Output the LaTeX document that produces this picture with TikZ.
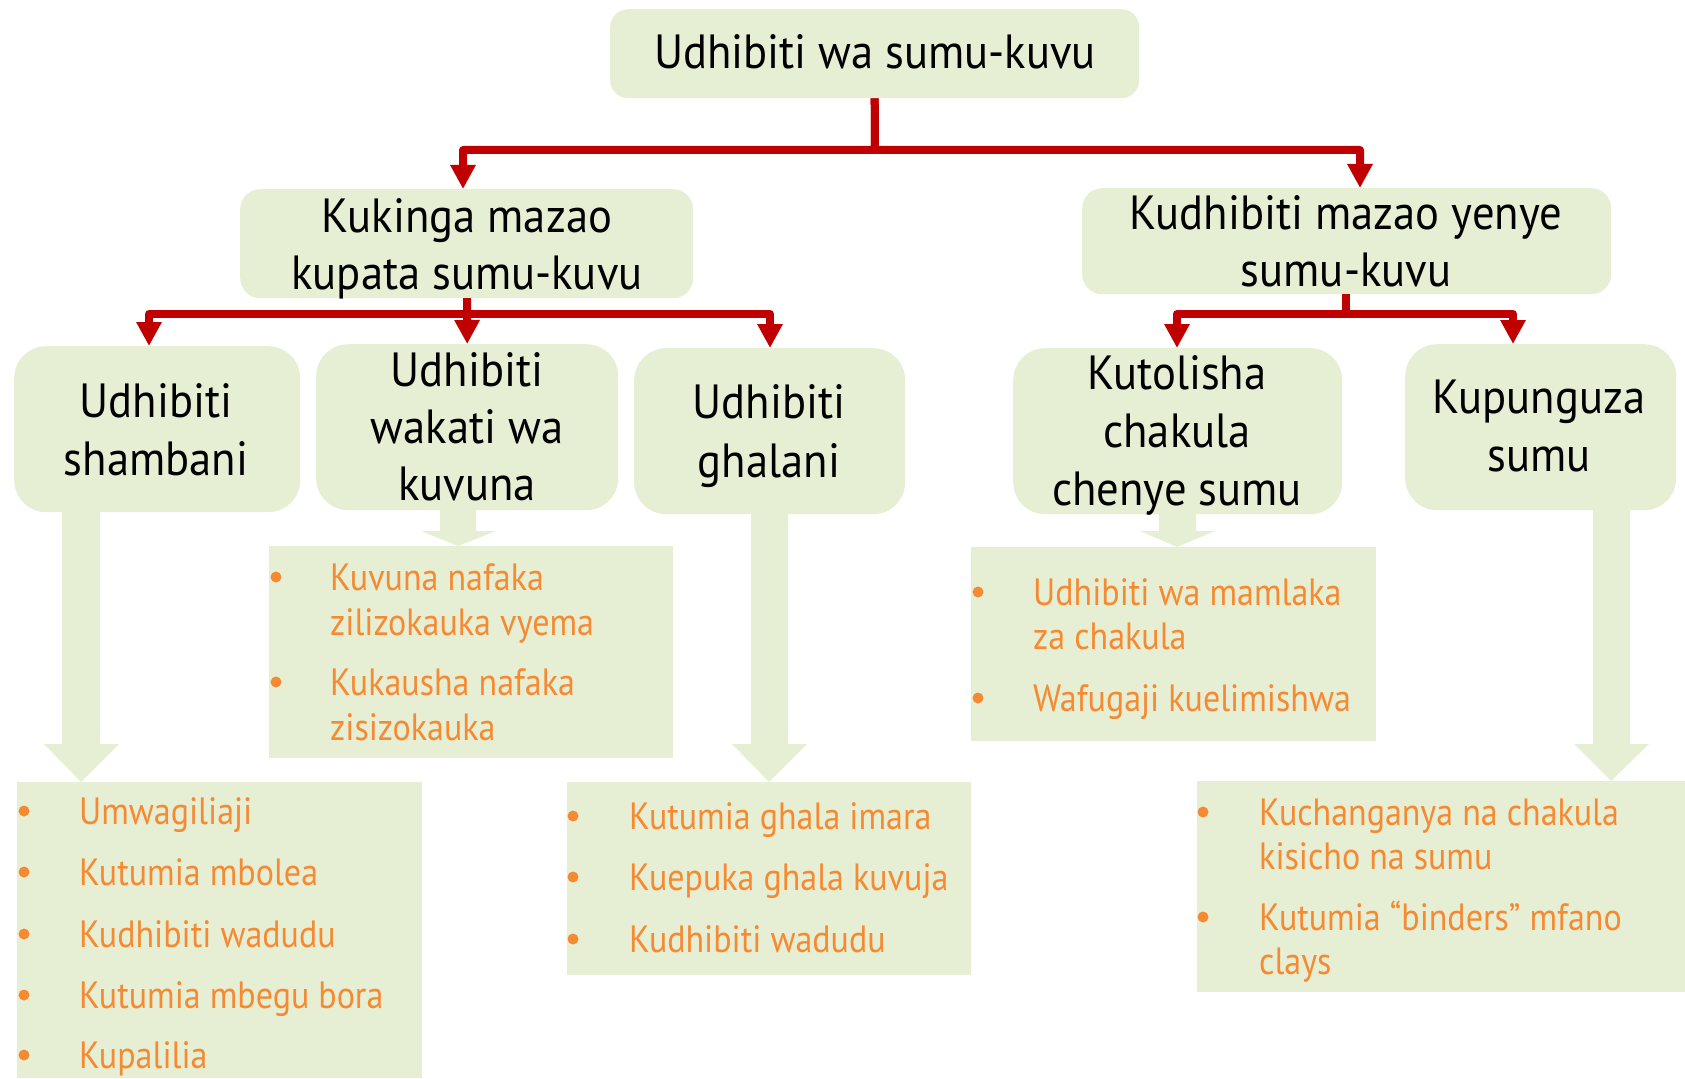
\documentclass[tikz,border=0pt]{standalone}
\usepackage{fontspec}
\setmainfont{PT Sans}[FakeStretch=0.93]
\newfontfamily\itemfont{PT Sans}[FakeStretch=0.895]
\usetikzlibrary{arrows.meta}
\definecolor{boxgreen}{HTML}{E6EFD3}
\definecolor{linkred}{HTML}{C00000}
\definecolor{itemorange}{HTML}{F68A33}
\begin{document}
\begin{tikzpicture}[x=1pt,y=-1pt,
 gbox/.style={fill=boxgreen,draw=none,inner sep=0pt,anchor=north west,rounded corners=#1},
 lbox/.style={fill=boxgreen,draw=none,inner sep=0pt,anchor=north west},
 htxt/.style={anchor=base,inner sep=0pt,font=\fontsize{48}{56}\selectfont},
 itxt/.style={anchor=base west,inner sep=0pt,text=itemorange,font=\itemfont\fontsize{38}{44}\selectfont},
 link/.style={draw=linkred,line width=8pt,line join=round,-{Triangle[length=24pt,width=24pt]}},
 fat/.style={fill=boxgreen,draw=none},
 dot/.style={fill=itemorange,draw=none}]
\useasboundingbox (0,0) rectangle (1685,1078);

% fat arrows
\fill[fat] (62,505) -- (100,505) -- (100,744) -- (119,744) -- (81,782) -- (44,744) -- (62,744) -- cycle;
\fill[fat] (440,505) -- (476,505) -- (476,531) -- (496,531) -- (458,546) -- (421,531) -- (440,531) -- cycle;
\fill[fat] (751,505) -- (788,505) -- (788,744) -- (807,744) -- (769,782) -- (732,744) -- (751,744) -- cycle;
\fill[fat] (1159,505) -- (1196,505) -- (1196,531) -- (1215,531) -- (1177,547) -- (1140,531) -- (1159,531) -- cycle;
\fill[fat] (1593,505) -- (1630,505) -- (1630,744) -- (1649,744) -- (1611,781) -- (1574,744) -- (1593,744) -- cycle;

% boxes
\node[gbox=18pt,minimum width=529pt,minimum height=89pt] (top) at (610,9) {};
\node[gbox=20pt,minimum width=453pt,minimum height=109pt] (K) at (240,189) {};
\node[gbox=20pt,minimum width=529pt,minimum height=106pt] (Kd) at (1082,188) {};
\node[gbox=32pt,minimum width=286pt,minimum height=166pt] (A) at (14,346) {};
\node[gbox=32pt,minimum width=302pt,minimum height=166pt] (B) at (316,344) {};
\node[gbox=32pt,minimum width=271pt,minimum height=166pt] (C) at (634,348) {};
\node[gbox=32pt,minimum width=329pt,minimum height=166pt] (D) at (1013,348) {};
\node[gbox=32pt,minimum width=271pt,minimum height=166pt] (E) at (1405,344) {};
\node[lbox,minimum width=405pt,minimum height=296pt] (L1) at (17,782) {};
\node[lbox,minimum width=404pt,minimum height=212pt] (L2) at (269,546) {};
\node[lbox,minimum width=404pt,minimum height=193pt] (L3) at (567,782) {};
\node[lbox,minimum width=405pt,minimum height=194pt] (L4) at (971,547) {};
\node[lbox,minimum width=488pt,minimum height=211pt] (L5) at (1197,781) {};

% red connectors
\draw[link] (top.south) -- (875,150) -| (463,0 |- K.north);
\draw[link] (top.south) -- (875,150) -| (1360,0 |- Kd.north);
\draw[link] (467,0 |- K.south) -- (467,314) -| (149,0 |- A.north);
\draw[link] (467,0 |- K.south) -- (B.north);
\draw[link] (467,0 |- K.south) -- (467,314) -| (770,0 |- C.north);
\draw[link] (1346,0 |- Kd.south) -- (1346,314) -| (1177,0 |- D.north);
\draw[link] (1346,0 |- Kd.south) -- (1346,314) -| (1513,0 |- E.north);

% heading texts
\node[htxt] (t0) at (875,69) {Udhibiti wa sumu-kuvu};
\node[htxt] (tk1) at (467,232) {Kukinga mazao};
\node[htxt] (tk2) at (467,289) {kupata sumu-kuvu};
\node[htxt] (td1) at (1346,229) {Kudhibiti mazao yenye};
\node[htxt] (td2) at (1346,286) {sumu-kuvu};
\node[htxt] (ta1) at (156,417) {Udhibiti};
\node[htxt] (ta2) at (156,475) {shambani};
\node[htxt] (tb1) at (467,386) {Udhibiti};
\node[htxt] (tb2) at (467,443) {wakati wa};
\node[htxt] (tb3) at (467,500) {kuvuna};
\node[htxt] (tc1) at (769,418) {Udhibiti};
\node[htxt] (tc2) at (769,477) {ghalani};
\node[htxt] (tdd1) at (1177,389) {Kutolisha};
\node[htxt] (tdd2) at (1177,447) {chakula};
\node[htxt] (tdd3) at (1177,505) {chenye sumu};
\node[htxt] (te1) at (1539,413) {Kupunguza};
\node[htxt] (te2) at (1539,471) {sumu};

% list 1
\foreach \yy in {824,885,947,1008,1068} \fill[dot] (24,\yy-13) circle[radius=5.5pt];
\node[itxt] (l11) at (79,824) {Umwagiliaji};
\node[itxt] (l12) at (79,885) {Kutumia mbolea};
\node[itxt] (l13) at (79,947) {Kudhibiti wadudu};
\node[itxt] (l14) at (79,1008) {Kutumia mbegu bora};
\node[itxt] (l15) at (79,1068) {Kupalilia};

% list 2
\foreach \yy in {590,695} \fill[dot] (276,\yy-13) circle[radius=5.5pt];
\node[itxt] (l21) at (330,590) {Kuvuna nafaka};
\node[itxt] (l22) at (330,635) {zilizokauka vyema};
\node[itxt] (l23) at (330,695) {Kukausha nafaka};
\node[itxt] (l24) at (330,740) {zisizokauka};

% list 3
\foreach \yy in {829,890,952} \fill[dot] (573,\yy-13) circle[radius=5.5pt];
\node[itxt] (l31) at (629,829) {Kutumia ghala imara};
\node[itxt] (l32) at (629,890) {Kuepuka ghala kuvuja};
\node[itxt] (l33) at (629,952) {Kudhibiti wadudu};

% list 4
\foreach \yy in {605,711} \fill[dot] (978,\yy-13) circle[radius=5.5pt];
\node[itxt] (l41) at (1033,605) {Udhibiti wa mamlaka};
\node[itxt] (l42) at (1033,649) {za chakula};
\node[itxt] (l43) at (1033,711) {Wafugaji kuelimishwa};

% list 5
\foreach \yy in {825,930} \fill[dot] (1203,\yy-13) circle[radius=5.5pt];
\node[itxt] (l51) at (1259,825) {Kuchanganya na chakula};
\node[itxt] (l52) at (1259,869) {kisicho na sumu};
\node[itxt] (l53) at (1259,930) {Kutumia “binders” mfano};
\node[itxt] (l54) at (1259,974) {clays};
\end{tikzpicture}
\end{document}
